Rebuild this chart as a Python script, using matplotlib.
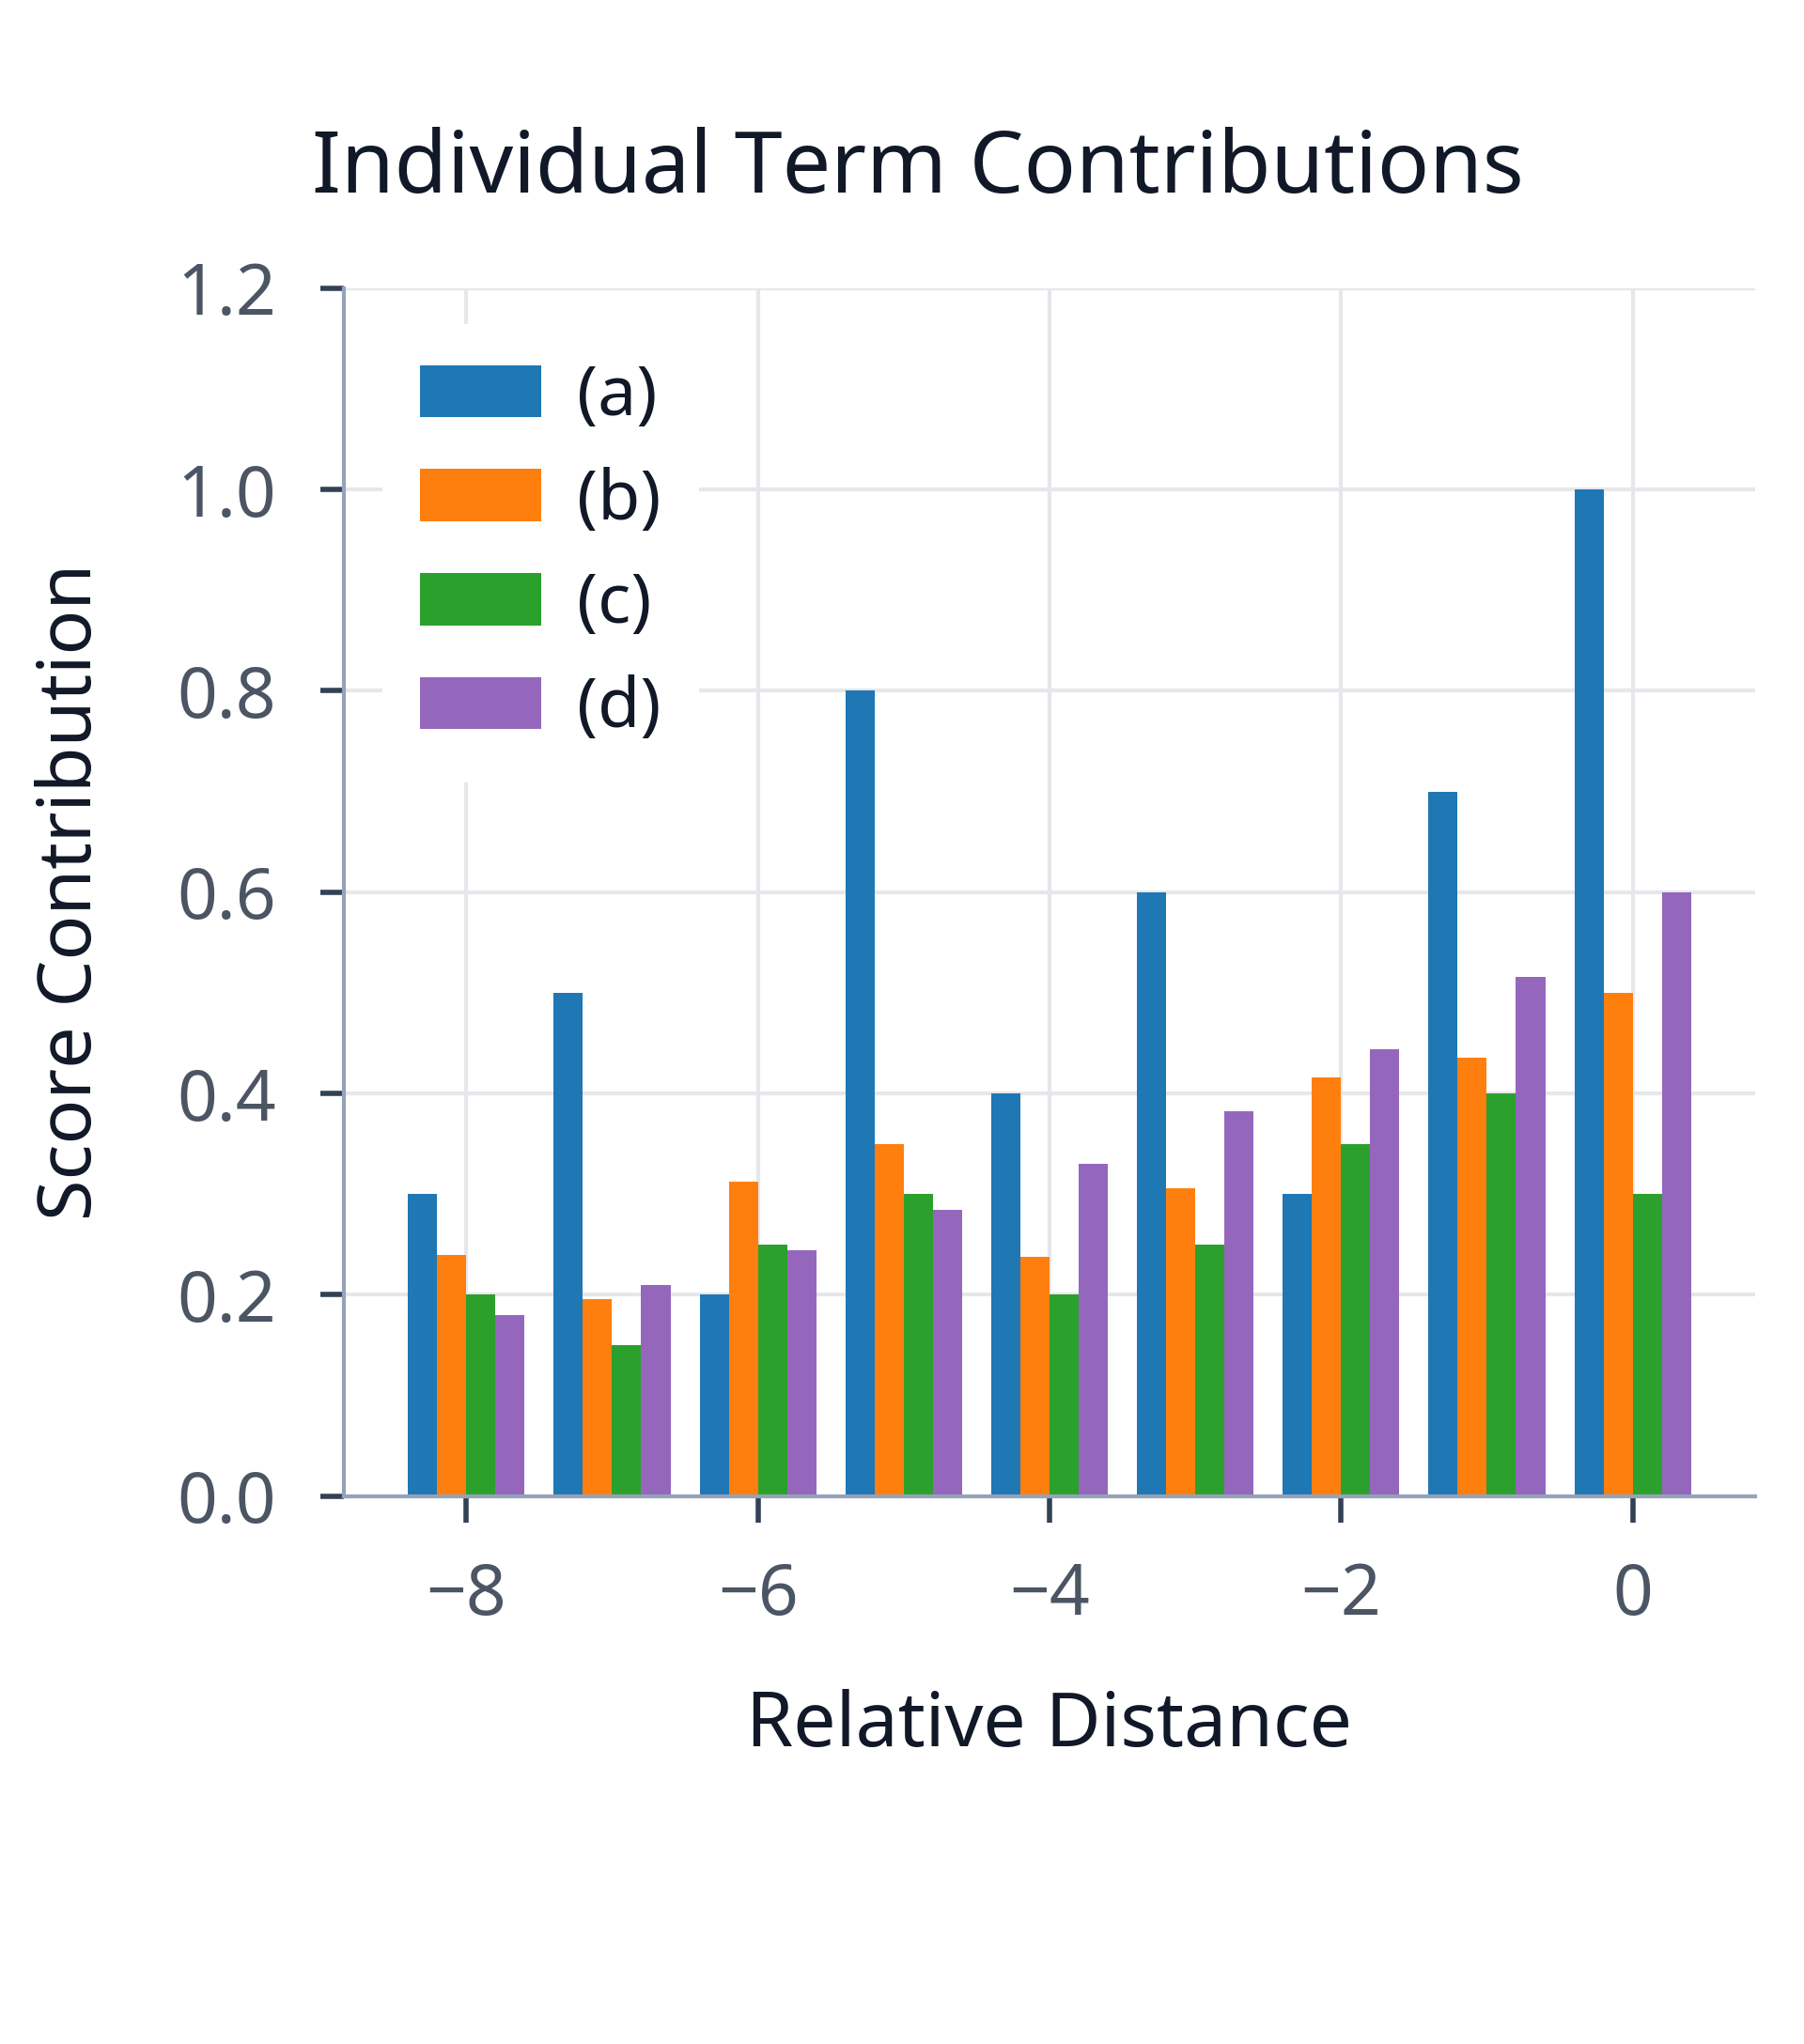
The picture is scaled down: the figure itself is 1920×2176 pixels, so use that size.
import numpy as np
import matplotlib
matplotlib.use("Agg")
import matplotlib.pyplot as plt

plt.rcParams['font.family'] = ['Noto Sans', 'DejaVu Sans']

# relative distance of each group
distances = [-8, -7, -6, -5, -4, -3, -2, -1, 0]

# contribution of each term
term_a = [0.30, 0.50, 0.20, 0.80, 0.40, 0.60, 0.30, 0.70, 1.00]
term_b = [0.24, 0.196, 0.312, 0.35, 0.238, 0.306, 0.416, 0.436, 0.50]
term_c = [0.20, 0.15, 0.25, 0.30, 0.20, 0.25, 0.35, 0.40, 0.30]
term_d = [0.18, 0.21, 0.244, 0.284, 0.33, 0.382, 0.444, 0.516, 0.60]

labels = ['(a)', '(b)', '(c)', '(d)']
colors = ['#1f77b4', '#ff7f0e', '#2ca02c', '#9467bd']

x_ticks = [-8, -6, -4, -2, 0]
y_ticks = [0.0, 0.2, 0.4, 0.6, 0.8, 1.0, 1.2]

fig = plt.figure(figsize=(9.6, 10.88), dpi=200)
ax = fig.add_axes([0.1906, 0.268, 0.7823, 0.591])

x = np.array(distances, dtype=float)
width = 0.2
for i, (vals, lab, col) in enumerate(zip([term_a, term_b, term_c, term_d], labels, colors)):
    ax.bar(x + (i - 1.5) * width, vals, width, color=col, label=lab, zorder=2)

ax.set_xlim(-8.84, 0.84)
ax.set_ylim(0, 1.2)
ax.set_xticks(x_ticks)
ax.set_xticklabels([f"{t}".replace('-', '\u2212') for t in x_ticks])
ax.set_yticks(y_ticks)
ax.set_yticklabels([f"{t:.1f}" for t in y_ticks])

ax.grid(True, color='#e5e7eb', linewidth=1.5, zorder=0)
ax.set_axisbelow(True)

for side in ['top', 'right']:
    ax.spines[side].set_visible(False)
for side in ['left', 'bottom']:
    ax.spines[side].set_color('#94a3b8')
    ax.spines[side].set_linewidth(1.5)

ax.tick_params(axis='y', length=9, width=2, color='#334155', pad=17,
               labelsize=27, labelcolor='#4b5563')
ax.tick_params(axis='x', length=10, width=2, color='#334155', pad=15,
               labelsize=27, labelcolor='#4b5563')

ax.set_xlabel('Relative Distance', fontsize=29, color='#111827', labelpad=22)
ax.set_ylabel('Score Contribution', fontsize=28.5, color='#111827', labelpad=26)

fig.text(0.509, 0.917, 'Individual Term Contributions', ha='center', va='center',
         fontsize=33, color='#111827')

leg = ax.legend(loc='upper left', bbox_to_anchor=(0.027, 0.97), borderaxespad=0,
                fontsize=26.5, frameon=True, facecolor='white', edgecolor='none',
                framealpha=1, handlelength=1.75, handleheight=0.78,
                handletextpad=0.52, borderpad=0.55, labelspacing=0.5)
leg.set_zorder(5)
for t in leg.get_texts():
    t.set_color('#111827')

fig.savefig('out.png', dpi=200)
